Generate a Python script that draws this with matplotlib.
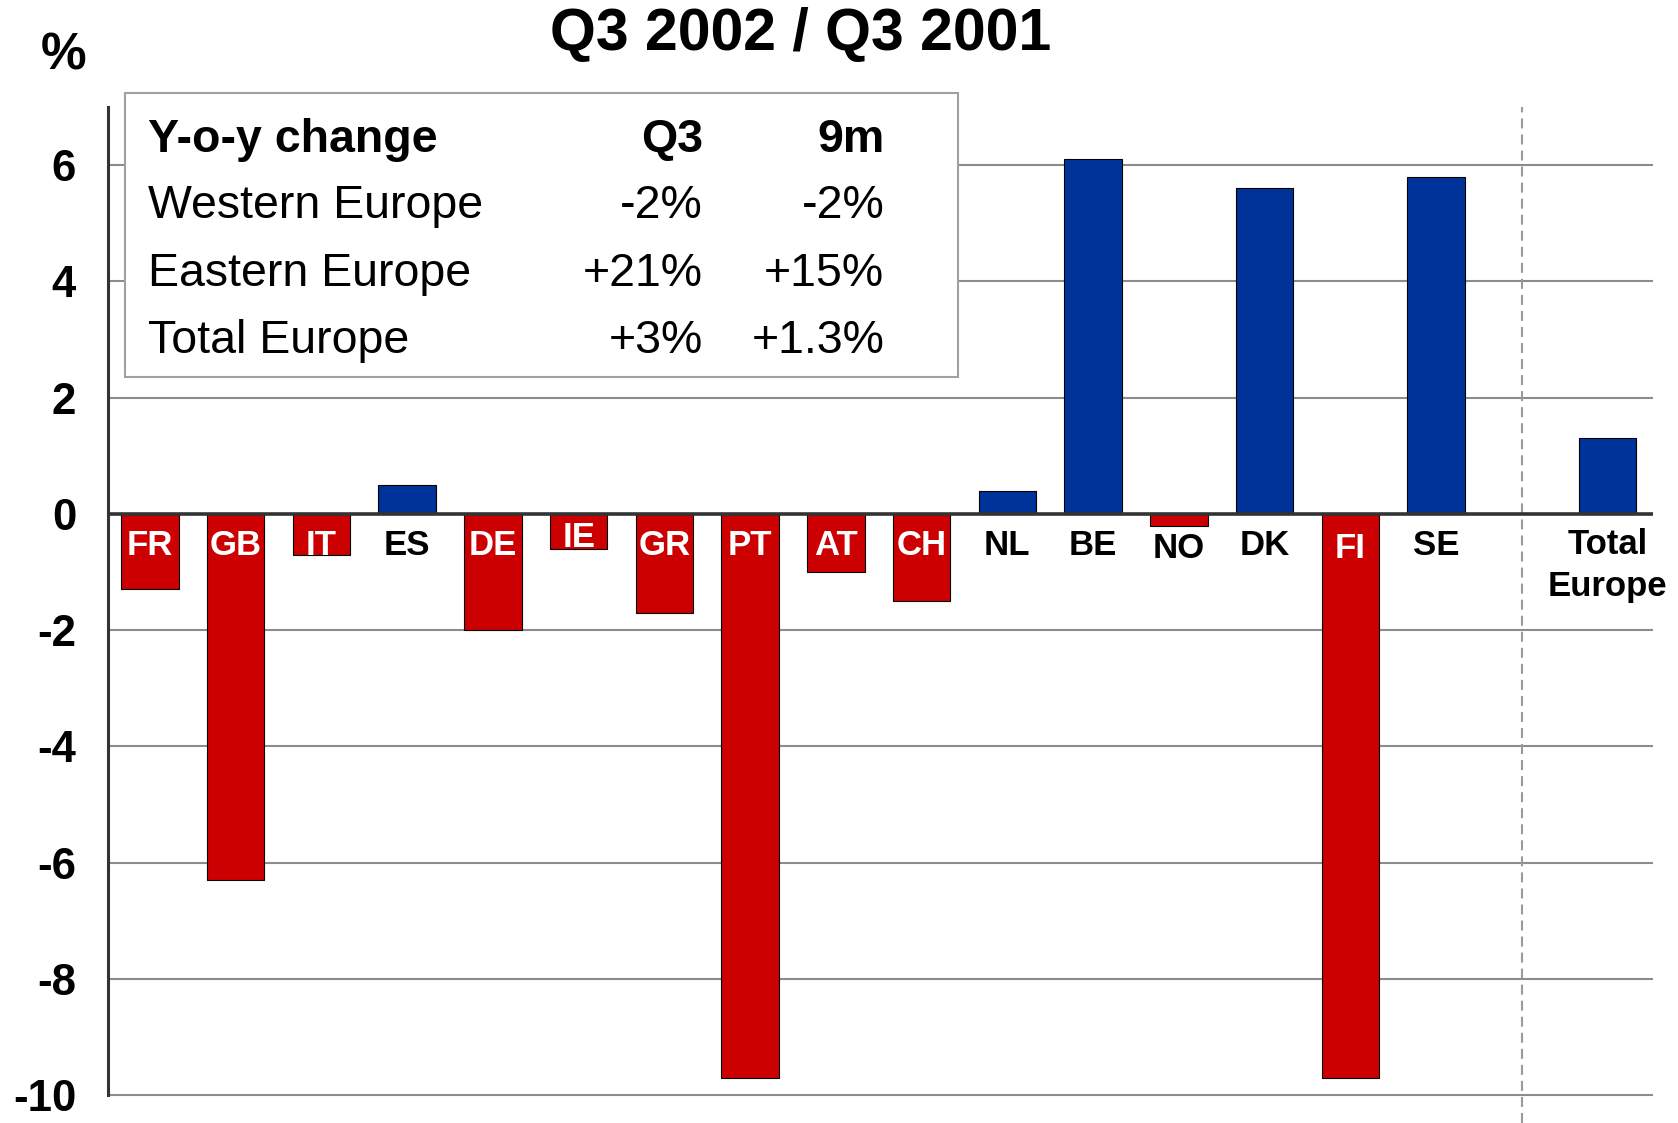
import matplotlib
matplotlib.use("Agg")
import matplotlib.pyplot as plt
from matplotlib.patches import Rectangle

plt.rcParams['font.family'] = ['Liberation Sans', 'DejaVu Sans']

# y-o-y change by country, Q3 2002 vs Q3 2001 (%)
countries = ["FR", "GB", "IT", "ES", "DE", "IE", "GR", "PT", "AT", "CH",
             "NL", "BE", "NO", "DK", "FI", "SE"]
values = [-1.3, -6.3, -0.7, 0.5, -2.0, -0.6, -1.7, -9.7, -1.0, -1.5,
          0.4, 6.1, -0.2, 5.6, -9.7, 5.8]
total_label = "Total\nEurope"
total_value = 1.3

yticks = [-10, -8, -6, -4, -2, 0, 2, 4, 6]

table_header = ["Y-o-y change", "Q3", "9m"]
table_rows = [
    ["Western Europe", "-2%", "-2%"],
    ["Eastern Europe", "+21%", "+15%"],
    ["Total Europe", "+3%", "+1.3%"],
]

RED = "#cc0000"
BLUE = "#003399"

fig = plt.figure(figsize=(16.78, 11.23), dpi=100)
ax = fig.add_axes([0.0644, 0.0, 0.9207, 0.9047])

xs = list(range(len(countries)))
x_total = len(countries) + 1
colors = [BLUE if v >= 0 else RED for v in values]
ax.bar(xs, values, width=0.67, color=colors, edgecolor="black", linewidth=0.8, zorder=2)
ax.bar([x_total], [total_value], width=0.67, color=BLUE, edgecolor="black",
       linewidth=0.8, zorder=2)

# grid, zero line and separator before the total
for t in yticks:
    if t != 0:
        ax.axhline(t, color="#8c8c8c", lw=1.5, zorder=1)
ax.axhline(0, color="#333333", lw=2.6, zorder=3)
ax.axvline(len(countries), color="#9a9a9a", lw=1.5, ls=(0, (4.8, 2.9)), zorder=1)

# country labels just under the zero line
label_dy = {"IE": 0.13, "NO": -0.06, "FI": -0.06}
for x, c, v in zip(xs, countries, values):
    col = "white" if v < -0.5 else "black"
    ax.text(x, -0.70 + label_dy.get(c, 0), c, ha="center", va="baseline",
            fontsize=25, fontweight="bold", color=col, zorder=4)
ax.text(x_total, -0.25, total_label, ha="center", va="top", fontsize=25,
        fontweight="bold", color="black", linespacing=1.32, zorder=4)

ax.set_xlim(-0.488, 17.53)
ax.set_ylim(-10.48, 7.0)
ax.set_xticks([])
ax.set_yticks(yticks)
ax.set_yticklabels([str(t) for t in yticks], fontsize=31.5, fontweight="bold")
ax.tick_params(axis="y", length=0, pad=23)
for s in ["top", "right", "bottom"]:
    ax.spines[s].set_visible(False)
ax.spines["left"].set_bounds(-10, 7)
ax.spines["left"].set_color("#333333")
ax.spines["left"].set_linewidth(2.2)

fig.text(0.477, 0.9555, "Q3 2002 / Q3 2001", ha="center", va="baseline",
         fontsize=42.5, fontweight="bold")
fig.text(0.038, 0.9377, "%", ha="center", va="baseline", fontsize=37,
         fontweight="bold")

# summary table box
fig.patches.append(Rectangle((0.0745, 0.6643), 0.4964, 0.2529, transform=fig.transFigure,
                             facecolor="white", edgecolor="#a0a0a0", lw=1.5, zorder=5))
row_y = [0.865, 0.8056, 0.7453, 0.6854]
col_x = [0.088, 0.419, 0.527]
for i, row in enumerate([table_header] + table_rows):
    w = "bold" if i == 0 else "normal"
    fig.text(col_x[0], row_y[i], row[0], ha="left", va="baseline", fontsize=33.5,
             fontweight=w, zorder=6)
    fig.text(col_x[1], row_y[i], row[1], ha="right", va="baseline", fontsize=33.5,
             fontweight=w, zorder=6)
    fig.text(col_x[2], row_y[i], row[2], ha="right", va="baseline", fontsize=33.5,
             fontweight=w, zorder=6)

fig.savefig("out.png", dpi=100)
